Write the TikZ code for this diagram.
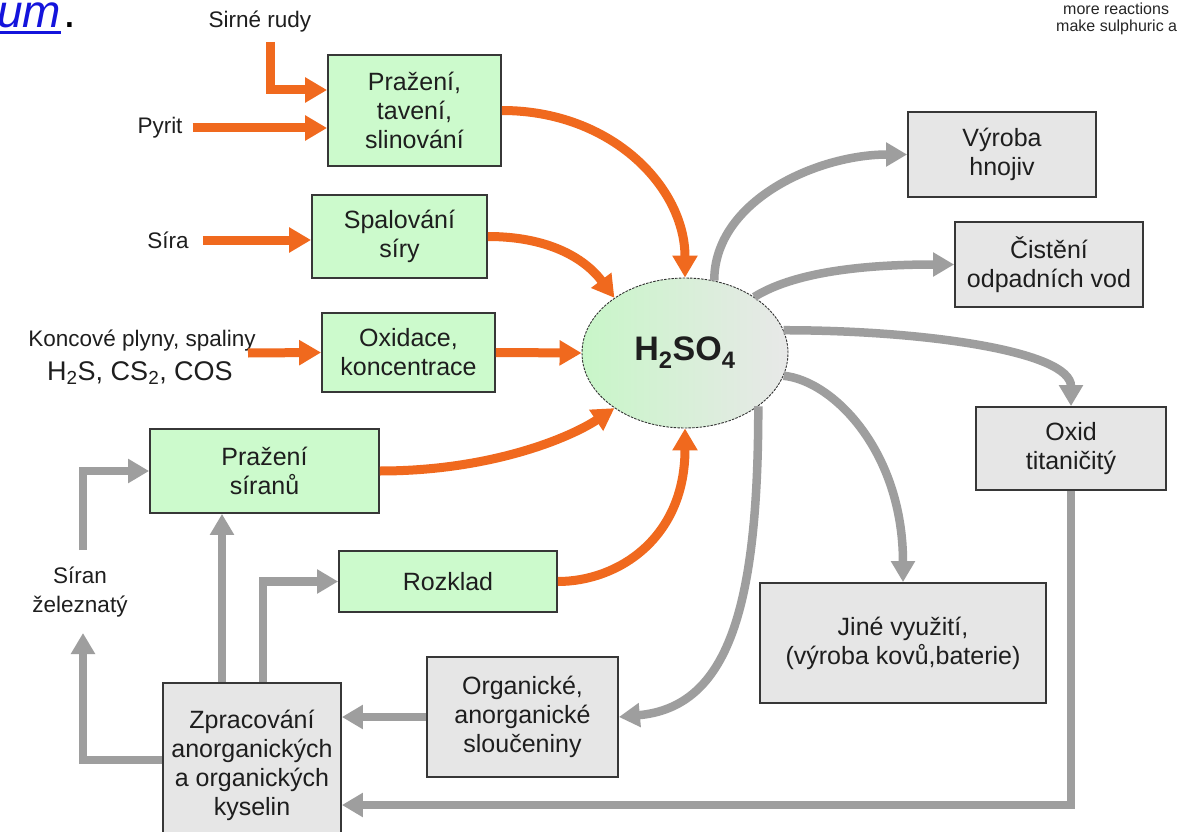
\documentclass[tikz,border=0pt]{standalone}
\usepackage{fontspec}
\setmainfont{Liberation Sans}
\usetikzlibrary{arrows.meta,shapes.geometric}
\definecolor{boxgreen}{RGB}{204,250,204}
\definecolor{boxgrey}{RGB}{230,230,230}
\definecolor{arrorange}{RGB}{240,105,30}
\definecolor{arrgrey}{RGB}{158,158,158}
\definecolor{edgecol}{RGB}{55,55,55}
\definecolor{txtcol}{RGB}{30,30,30}
\definecolor{linkblue}{RGB}{20,20,220}
\definecolor{ellgreen}{RGB}{200,246,200}
\definecolor{ellgrey}{RGB}{232,232,232}
\begin{document}
\begin{tikzpicture}[x=1pt,y=-1pt,
  every node/.style={text=txtcol},
  box/.style={draw=edgecol, line width=1.8pt, inner sep=0pt, align=center, font=\fontsize{25}{29}\selectfont},
  gbox/.style={box, fill=boxgreen},
  ybox/.style={box, fill=boxgrey},
  lab/.style={align=center, inner sep=0pt, font=\fontsize{22.5}{29}\selectfont},
  oarr/.style={draw=arrorange, line width=9pt, -{Triangle[length=22pt,width=24pt]}},
  garr/.style={draw=arrgrey, line width=8.5pt, -{Triangle[length=21pt,width=23pt]}},
]
\useasboundingbox (0,0) rectangle (1178,832);
\clip (0,0) rectangle (1178,832);
\fill[white] (0,0) rectangle (1178,832);

% corner texts
\node[anchor=base west, inner sep=0pt, text=linkblue, font=\itshape\fontsize{46}{46}\selectfont] (um) at (-3,28) {um};
\draw[linkblue, line width=3pt] ([yshift=-5pt]um.base west) -- ([yshift=-5pt]um.base east);
\node[anchor=base west, inner sep=0pt, text=black, font=\fontsize{46}{46}\selectfont] (dot) at ([xshift=2pt]um.base east) {.};
\node[anchor=base west, inner sep=0pt, text=black!85, font=\fontsize{16}{17}\selectfont] (mr1) at (1063,15) {more reactions};
\node[anchor=base west, inner sep=0pt, text=black!85, font=\fontsize{16}{17}\selectfont] (mr2) at (1056,32) {make sulphuric a};

% green process boxes
\node[gbox, minimum width=173pt, minimum height=111pt] (b1) at (414.5,110.5) {Pražení,\\tavení,\\slinování};
\node[gbox, minimum width=175pt, minimum height=83pt] (b2) at (399.5,236.5) {Spalování\\síry};
\node[gbox, minimum width=173pt, minimum height=79pt] (b3) at (408.5,352.5) {Oxidace,\\koncentrace};
\node[gbox, minimum width=229pt, minimum height=84pt] (b4) at (264.5,471) {Pražení\\síranů};
\node[gbox, minimum width=218pt, minimum height=61pt] (b5) at (448,581.5) {Rozklad};

% central ellipse
\node[ellipse, minimum width=206pt, minimum height=150pt, inner sep=0pt,
      draw=black!80, line width=0.9pt, dash pattern=on 2.5pt off 1.2pt,
      left color=ellgreen, right color=ellgrey,
      font=\bfseries\fontsize{34}{34}\selectfont] (h) at (685,353) {H\textsubscript{2}SO\textsubscript{4}};

% grey use boxes
\node[ybox, minimum width=188pt, minimum height=85pt] (vy) at (1002,154.5) {Výroba\\hnojiv};
\node[ybox, minimum width=188pt, minimum height=85pt] (ci) at (1049,264.5) {Čistění\\odpadních vod};
\node[ybox, minimum width=190pt, minimum height=83pt] (ox) at (1071,448.5) {Oxid\\titaničitý};
\node[ybox, minimum width=286pt, minimum height=120pt] (ji) at (903,643) {Jiné využití,\\(výroba kovů,baterie)};
\node[ybox, minimum width=191pt, minimum height=120pt] (org) at (522.5,717) {Organické,\\anorganické\\sloučeniny};
\node[ybox, minimum width=178pt, minimum height=164pt] (zp) at (252,765) {Zpracování\\anorganických\\a organických\\kyselin};

% free labels
\node[lab] (sirne) at (260,22) {Sirné rudy};
\node[lab] (pyrit) at (160,128) {Pyrit};
\node[lab] (sira) at (168,240) {Síra};
\node[lab] (konc) at (142,341) {Koncové plyny, spaliny};
\node[lab, font=\fontsize{27}{30}\selectfont] (gases) at (140,373) {H\textsubscript{2}S, CS\textsubscript{2}, COS};
\node[lab] (siran) at (80,592) {Síran\\železnatý};

\coordinate (sA) at (270,42);
\coordinate (kA) at (248,353);
\coordinate (sz) at (83,633);
\coordinate (sy) at (83,550);

% orange inputs
\draw[oarr] (sA) |- (b1.west |- 0,90);
\draw[oarr] ([xshift=10pt]pyrit.east) -- (b1.west |- pyrit.east);
\draw[oarr] ([xshift=14pt]sira.east) -- (b2.west |- sira.east);
\draw[oarr] (kA) -- (b3.west);
\draw[oarr] (b3.east) -- (h.west);
\draw[oarr] (b1.east) .. controls +(110,0) and +(0,-90) .. (h.north);
\draw[oarr] (b2.east) .. controls +(60,0) and +(-30,-40) .. (h.142);
\draw[oarr] (b4.east) .. controls +(110,0) and +(-45,30) .. (h.218);
\draw[oarr] (b5.east) .. controls +(60,0) and +(0,110) .. (h.south);

% grey outputs
\draw[garr] (h.68) .. controls +(0,-80) and +(-90,0) .. (vy.west);
\draw[garr] (h.39) .. controls +(45,-28) and +(-75,0) .. (ci.west);
\draw[garr] (h.13) .. controls +(140,0) and +(0,-55) .. (ox.north);
\draw[garr] (h.-13) .. controls +(50,5) and +(0,-130) .. (ji.north);
\draw[garr] (h.-36) .. controls +(0,200) and +(110,-10) .. (org.east);

% grey orthogonal returns
\draw[garr] (ox.south) |- (zp.east |- 0,805);
\draw[garr] (org.west) -- (zp.east |- org.west);
\draw[garr] (zp.west |- 0,760) -| (sz);
\draw[garr] (sy) |- (b4.west);
\draw[garr] (zp.north -| 222,0) -- (b4.south -| 222,0);
\draw[garr] (zp.north -| 263,0) |- (b5.west);
\end{tikzpicture}
\end{document}
